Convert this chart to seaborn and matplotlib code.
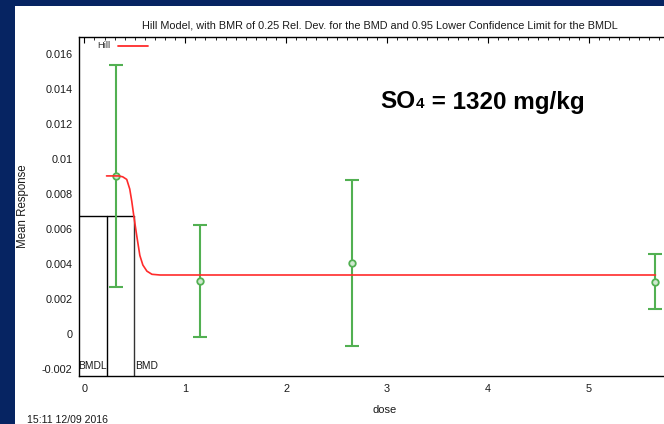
import numpy as np
import pandas as pd
import matplotlib
matplotlib.use("Agg")
import matplotlib.pyplot as plt
from matplotlib.patches import Rectangle
from matplotlib.ticker import MultipleLocator
import seaborn as sns

# Dose groups: mean response with lower / upper confidence bounds
dose = [0.312, 1.145, 2.65, 5.66]
mean_resp = [0.00906, 0.00304, 0.00405, 0.00300]
lower_ci = [0.00270, -0.00016, -0.00071, 0.00143]
upper_ci = [0.01542, 0.00624, 0.00881, 0.00457]

# Fitted Hill model curve (dose, response)
curve_dose = [0.22, 0.34, 0.38, 0.42, 0.45, 0.47, 0.49, 0.52, 0.55, 0.58,
              0.62, 0.67, 0.75, 5.66]
curve_resp = [0.00905, 0.00905, 0.00900, 0.00885, 0.00830, 0.00760, 0.00677,
              0.00560, 0.00450, 0.00395, 0.00360, 0.00342, 0.00338, 0.00338]

# Benchmark dose results
bmdl = 0.226
bmd = 0.49
bmd_resp = 0.00677

xticks = [0, 1, 2, 3, 4, 5]
xtick_labels = ["0", "1", "2", "3", "4", "5"]
yticks = [-0.002, 0, 0.002, 0.004, 0.006, 0.008, 0.01, 0.012, 0.014, 0.016]
ytick_labels = ["-0.002", "0", "0.002", "0.004", "0.006", "0.008",
                "0.01", "0.012", "0.014", "0.016"]

title = ("Hill Model, with BMR of 0.25 Rel. Dev. for the BMD and "
         "0.95 Lower Confidence Limit for the BMDL")

sns.set_style("white")
plt.rcParams["font.family"] = ["Liberation Sans", "DejaVu Sans"]

W, H = 664, 424
fig = plt.figure(figsize=(W / 100, H / 100), dpi=100)
fig.patch.set_facecolor("#062462")

# white page area
fig.patches.append(Rectangle((15 / W, 0), (W - 15) / W, (H - 6) / H,
                             transform=fig.transFigure, facecolor="white",
                             edgecolor="none", zorder=-10))

x_lo, x_hi = -0.05, 6.0
y_lo, y_hi = -0.0024, 0.0170
px_per_unit = 100.9
ax_left, ax_top, ax_bottom = 79.3, 37, 376
ax_w = (x_hi - x_lo) * px_per_unit
ax = fig.add_axes([ax_left / W, (H - ax_bottom) / H, ax_w / W,
                   (ax_bottom - ax_top) / H])
ax.set_facecolor("none")
ax.set_zorder(1)

green = "#52b052"
red = "#ff2b2b"
ink = "#1a1a1a"

# error bars
ax.errorbar(dose, mean_resp,
            yerr=[np.array(mean_resp) - np.array(lower_ci),
                  np.array(upper_ci) - np.array(mean_resp)],
            fmt="none", ecolor=green, elinewidth=1.5, capsize=5.2,
            capthick=1.5, zorder=3)

pts = pd.DataFrame({"dose": dose, "mean": mean_resp})
sns.scatterplot(data=pts, x="dose", y="mean", ax=ax, marker="o", s=22,
                facecolor="#cfe8cf", edgecolor=green, linewidth=1.3, zorder=4)

curve = pd.DataFrame({"dose": curve_dose, "resp": curve_resp})
sns.lineplot(data=curve, x="dose", y="resp", ax=ax, color=red, linewidth=1.2,
             sort=False, estimator=None, zorder=5)

# BMD / BMDL markers
ax.plot([x_lo, bmd], [bmd_resp, bmd_resp], color="black", lw=1.0, zorder=2)
ax.plot([bmdl, bmdl], [y_lo, bmd_resp], color="black", lw=1.0, zorder=2)
ax.plot([bmd, bmd], [y_lo, bmd_resp], color="#333333", lw=1.0, zorder=2)
ax.text(bmdl, -0.00183, "BMDL", ha="right", va="center", fontsize=7.4,
        color=ink)
ax.text(bmd + 0.01, -0.00183, "BMD", ha="left", va="center", fontsize=7.4,
        color=ink)

ax.set_xlim(x_lo, x_hi)
ax.set_ylim(y_lo, y_hi)
ax.set_xticks(xticks, labels=xtick_labels)
ax.set_yticks(yticks, labels=ytick_labels)
ax.xaxis.set_minor_locator(MultipleLocator(0.1))
ax.yaxis.set_minor_locator(MultipleLocator(0.0005))
ax.tick_params(which="both", direction="in", top=True, right=True,
               colors="black", labelcolor=ink)
ax.tick_params(which="major", length=4, width=0.8, labelsize=7.8)
ax.tick_params(axis="y", which="major", pad=5)
ax.tick_params(axis="x", which="major", pad=6)
ax.tick_params(which="minor", length=2, width=0.6)
for s in ax.spines.values():
    s.set_color("black")
    s.set_linewidth(1.0)

ax.set_xlabel("dose", fontsize=8, color=ink, labelpad=8)
ax.set_ylabel("Mean Response", fontsize=8.3, color=ink)
ax.yaxis.set_label_coords((29 - ax_left) / ax_w, 0.5)


def to_ax(px, py):
    return ((px - ax_left) / ax_w, (ax_bottom - py) / (ax_bottom - ax_top))


# legend entry
lx, ly = to_ax(97, 45.5)
ax.text(lx, ly, "Hill", transform=ax.transAxes, fontsize=6.8, va="center",
        ha="left", color="#333333")
x1, yl = to_ax(118, 45.5)
x2, _ = to_ax(148, 45.5)
ax.plot([x1, x2], [yl, yl], transform=ax.transAxes, color=red, lw=1.3,
        clip_on=False)

fig.text(380 / W, 1 - 26 / H, title, ha="center", va="center", fontsize=7.8,
         color=ink)
fig.text(27 / W, 1 - 420 / H, "15:11 12/09 2016", ha="left", va="center",
         fontsize=7.6, color=ink)

# concentration annotation: "SO" + small "4" + rest, sharing one baseline
fig.canvas.draw()
renderer = fig.canvas.get_renderer()
base_y = 1 - 108.5 / H
t1 = fig.text(380 / W, base_y, "SO", ha="left", va="baseline", fontsize=17.5,
              fontweight="bold", color="black")
x_next = t1.get_window_extent(renderer).x1 / W
t2 = fig.text(x_next + 1 / W, base_y, "4", ha="left", va="baseline",
              fontsize=11, fontweight="bold", color="black")
x_next = t2.get_window_extent(renderer).x1 / W
fig.text(x_next, base_y, " = 1320 mg/kg", ha="left", va="baseline",
         fontsize=17.5, fontweight="bold", color="black")

fig.savefig("out.png", dpi=100, facecolor=fig.get_facecolor())
